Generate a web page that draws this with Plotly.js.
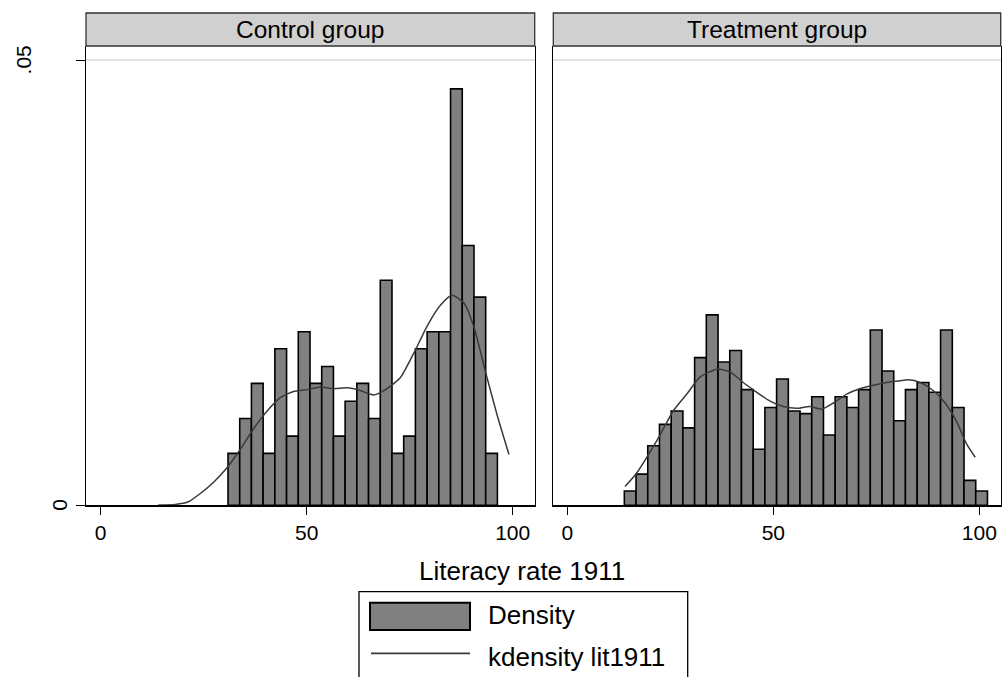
<!DOCTYPE html>
<html>
<head>
<meta charset="utf-8">
<script src="https://cdn.plot.ly/plotly-3.0.1.min.js"></script>
<style>html,body{margin:0;padding:0;background:#fff;}#chart{width:1002px;height:677px;}</style>
</head>
<body>
<div id="chart"></div>
<script>
// ---- data ----
const panelTitles = ["Control group", "Treatment group"];
const xTitle = "Literacy rate 1911";
const legendLabels = ["Density", "kdensity lit1911"];
const xTickVals = [0, 50, 100];
const xTickText = ["0", "50", "100"];
const yTickVals = [0, 0.05];
const yTickText = ["0", ".05"];

// common histogram bins
const binStart = 13.84;
const binWidth = 2.843;

// control group: first bar is bin index 6
const controlFirstBin = 6;
const controlDensity = [0.00584, 0.00975, 0.0137, 0.00584, 0.0176, 0.00778, 0.0195, 0.0137, 0.0156, 0.00778,
  0.0117, 0.0137, 0.00975, 0.0253, 0.00584, 0.00778, 0.0176, 0.0195, 0.0195, 0.0468, 0.0292, 0.0234, 0.00584];

// treatment group: first bar is bin index 0
const treatFirstBin = 0;
const treatDensity = [0.0016, 0.0035, 0.0067, 0.0091, 0.0106, 0.0087, 0.0166, 0.0214, 0.0161, 0.0174,
  0.0130, 0.0063, 0.0110, 0.0142, 0.0106, 0.0103, 0.0122, 0.0079, 0.0122, 0.0110,
  0.0130, 0.0197, 0.0151, 0.0095, 0.0130, 0.0138, 0.0127, 0.0197, 0.0110, 0.0028, 0.0016];

// kernel density curves
const controlKdeX = [14.0, 18.1, 21.3, 24.1, 27.4, 30.6, 33.9, 37.1, 40.4, 43.6, 46.8, 50.1, 53.3, 56.6,
  59.8, 63.0, 66.3, 69.5, 72.8, 76.0, 79.3, 82.5, 85.3, 88.2, 90.6, 93.4, 96.3, 99.1];
const controlKdeY = [0.00002, 0.0001, 0.0004, 0.0013, 0.0026, 0.0042, 0.0063, 0.0086, 0.0106, 0.0121, 0.0128,
  0.0130, 0.0133, 0.0131, 0.0132, 0.0129, 0.0124, 0.0131, 0.0144, 0.0171, 0.0202, 0.0225, 0.0236,
  0.0227, 0.0200, 0.0150, 0.0100, 0.0057];
const treatKdeX = [14.0, 16.8, 19.7, 22.5, 25.7, 29.0, 32.2, 36.3, 39.5, 42.7, 46.0, 49.2, 52.4, 55.7,
  58.9, 61.7, 64.6, 67.8, 71.0, 74.3, 77.5, 80.8, 82.8, 85.6, 88.8, 91.7, 94.5, 96.9, 99.0];
const treatKdeY = [0.0021, 0.0036, 0.0057, 0.0079, 0.0106, 0.0125, 0.0144, 0.0153, 0.0150, 0.0138, 0.0127,
  0.0117, 0.0111, 0.0109, 0.0111, 0.0108, 0.0115, 0.0125, 0.0131, 0.0135, 0.0138, 0.0140, 0.0141,
  0.0138, 0.0129, 0.0115, 0.0094, 0.0069, 0.0054];

// ---- build ----
const W = 1002, H = 677;
const px = v => v / W;
const py = v => (H - v) / H;
const FONT = "Liberation Sans, Arial, Helvetica, sans-serif";
const barFill = "#808080";
const kdeColor = "#3a3a3a";

function centers(first, n) {
  const c = [];
  for (let i = 0; i < n; i++) c.push(binStart + (first + i + 0.5) * binWidth);
  return c;
}

const traces = [
  {type: "bar", x: centers(controlFirstBin, controlDensity.length), y: controlDensity, width: binWidth,
   marker: {color: barFill, line: {color: "#000", width: 1.6}}, xaxis: "x", yaxis: "y", showlegend: false, hoverinfo: "skip"},
  {type: "scatter", mode: "lines", x: controlKdeX, y: controlKdeY, line: {color: kdeColor, width: 1.5, shape: "spline", smoothing: 0.6},
   xaxis: "x", yaxis: "y", showlegend: false, hoverinfo: "skip"},
  {type: "bar", x: centers(treatFirstBin, treatDensity.length), y: treatDensity, width: binWidth,
   marker: {color: barFill, line: {color: "#000", width: 1.6}}, xaxis: "x2", yaxis: "y2", showlegend: false, hoverinfo: "skip"},
  {type: "scatter", mode: "lines", x: treatKdeX, y: treatKdeY, line: {color: kdeColor, width: 1.5, shape: "spline", smoothing: 0.6},
   xaxis: "x2", yaxis: "y2", showlegend: false, hoverinfo: "skip"}
];

const yDomain = [py(505.3), py(46)];
const xAxisCommon = {
  tickvals: xTickVals, ticktext: xTickText, ticks: "outside", ticklen: 8, tickwidth: 1.3, tickcolor: "#000",
  showline: true, linecolor: "#000", linewidth: 1.3, mirror: false, showgrid: false, zeroline: false,
  tickfont: {family: FONT, size: 21, color: "#000"}, fixedrange: true
};
const yAxisCommon = {
  range: [0, 0.05162], tickvals: yTickVals, showticklabels: false,
  showline: true, linecolor: "#000", linewidth: 1.3, mirror: true,
  showgrid: true, gridcolor: "#e2e2e2", gridwidth: 2, zeroline: false, fixedrange: true
};

const layout = {
  width: W, height: H, margin: {l: 0, r: 0, t: 0, b: 0},
  paper_bgcolor: "#fff", plot_bgcolor: "#fff", showlegend: false,
  xaxis: Object.assign({}, xAxisCommon, {domain: [px(86), px(534.7)], range: [-3.57, 105.34], anchor: "y"}),
  xaxis2: Object.assign({}, xAxisCommon, {domain: [px(553.3), px(1000.7)], range: [-3.4, 105.19], anchor: "y2"}),
  yaxis: Object.assign({}, yAxisCommon, {domain: yDomain, anchor: "x", ticks: "outside", ticklen: 9, tickwidth: 1.3, tickcolor: "#000"}),
  yaxis2: Object.assign({}, yAxisCommon, {domain: yDomain, anchor: "x2", ticks: ""}),
  shapes: [
    // panel headers
    {type: "rect", xref: "x domain", yref: "paper", x0: 0, x1: 1, y0: py(46), y1: py(13),
     fillcolor: "#d0d0d0", line: {color: "#333", width: 1.3}, layer: "above"},
    {type: "rect", xref: "x2 domain", yref: "paper", x0: 0, x1: 1, y0: py(46), y1: py(13),
     fillcolor: "#d0d0d0", line: {color: "#333", width: 1.3}, layer: "above"},
    // legend box
    {type: "rect", xref: "paper", yref: "paper", x0: px(359), x1: px(687.7), y0: py(591.7), y1: py(690),
     fillcolor: "#fff", line: {color: "#000", width: 1.3}},
    {type: "rect", xref: "paper", yref: "paper", x0: px(370), x1: px(470), y0: py(602.7), y1: py(630),
     fillcolor: barFill, line: {color: "#000", width: 2}},
    {type: "line", xref: "paper", yref: "paper", x0: px(371), x1: px(470), y0: py(653.3), y1: py(653.3),
     line: {color: kdeColor, width: 1.7}}
  ],
  annotations: [
    {text: panelTitles[0], xref: "x domain", yref: "paper", x: 0.5, y: py(29.5), xanchor: "center", yanchor: "middle",
     showarrow: false, font: {family: FONT, size: 24.5, color: "#000"}},
    {text: panelTitles[1], xref: "x2 domain", yref: "paper", x: 0.5, y: py(29.5), xanchor: "center", yanchor: "middle",
     showarrow: false, font: {family: FONT, size: 24.5, color: "#000"}},
    {text: yTickText[1], xref: "paper", yref: "y", x: px(23), y: yTickVals[1], xanchor: "center", yanchor: "middle",
     textangle: -90, showarrow: false, font: {family: FONT, size: 21, color: "#000"}},
    {text: yTickText[0], xref: "paper", yref: "y", x: px(59.5), y: yTickVals[0], xanchor: "center", yanchor: "middle",
     textangle: -90, showarrow: false, font: {family: FONT, size: 21, color: "#000"}},
    {text: xTitle, xref: "paper", yref: "paper", x: px(522), y: py(571), xanchor: "center", yanchor: "middle",
     showarrow: false, font: {family: FONT, size: 26, color: "#000"}},
    {text: legendLabels[0], xref: "paper", yref: "paper", x: px(486), y: py(615), xanchor: "left", yanchor: "middle",
     showarrow: false, font: {family: FONT, size: 26, color: "#000"}},
    {text: legendLabels[1], xref: "paper", yref: "paper", x: px(486), y: py(657), xanchor: "left", yanchor: "middle",
     showarrow: false, font: {family: FONT, size: 26, color: "#000"}}
  ]
};

Plotly.newPlot("chart", traces, layout, {displayModeBar: false, staticPlot: true});
</script>
</body>
</html>
